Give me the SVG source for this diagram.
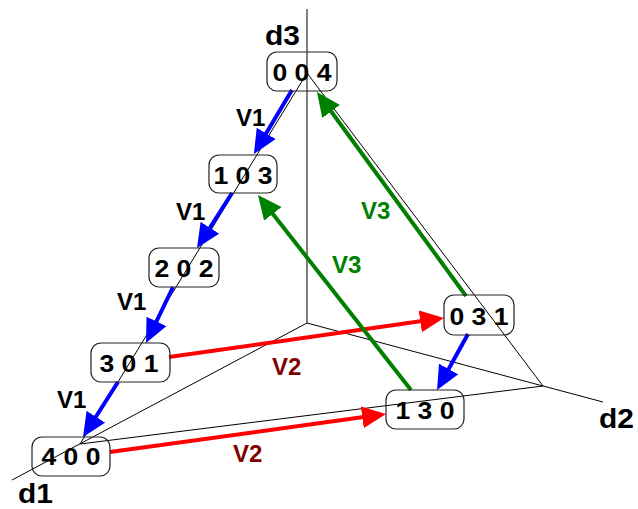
<svg xmlns="http://www.w3.org/2000/svg" width="638" height="509" viewBox="0 0 638 509">
<style>
.ax{stroke:#000;stroke-width:1;fill:none}
.box{fill:none;stroke:#222;stroke-width:1.2}
.nt{font-family:"Liberation Sans",Arial,sans-serif;font-weight:bold;font-size:23px;fill:#000;text-anchor:middle}
.al{font-family:"Liberation Sans",Arial,sans-serif;font-weight:bold;font-size:28px;fill:#000}
.lb{font-family:"Liberation Sans",Arial,sans-serif;font-weight:bold;font-size:24px}
.b{stroke:#0000ff;stroke-width:4;fill:none;marker-end:url(#mb)}
.r{stroke:#ff0000;stroke-width:4;fill:none;marker-end:url(#mr)}
.g{stroke:#008000;stroke-width:4;fill:none;marker-end:url(#mg)}
</style>
<defs>
<marker id="mb" markerUnits="userSpaceOnUse" markerWidth="24" markerHeight="22" refX="16" refY="11" orient="auto"><path d="M0,0 L24,11 L0,22 z" fill="#0000ff"/></marker>
<marker id="mr" markerUnits="userSpaceOnUse" markerWidth="24" markerHeight="22" refX="16" refY="11" orient="auto"><path d="M0,0 L24,11 L0,22 z" fill="#ff0000"/></marker>
<marker id="mg" markerUnits="userSpaceOnUse" markerWidth="24" markerHeight="22" refX="16" refY="11" orient="auto"><path d="M0,0 L24,11 L0,22 z" fill="#008000"/></marker>
</defs>
<g id="axes">
<line class="ax" x1="307" y1="9" x2="307" y2="323"/>
<line class="ax" x1="307" y1="323" x2="12" y2="480"/>
<line class="ax" x1="307" y1="323" x2="603" y2="402"/>
<polygon class="ax" points="307,73 80,444 543,386"/>
<text class="al" x="265" y="45" textLength="35" lengthAdjust="spacingAndGlyphs">d3</text>
<text class="al" x="18" y="503" textLength="35" lengthAdjust="spacingAndGlyphs">d1</text>
<text class="al" x="599" y="428" textLength="35" lengthAdjust="spacingAndGlyphs">d2</text>
</g>
<g id="connectors">
<line class="b" x1="292" y1="90" x2="258" y2="147.1"/>
<line class="b" x1="232" y1="193" x2="201.3" y2="241.2"/>
<line class="b" x1="173" y1="287" x2="149.5" y2="335.8"/>
<line class="b" x1="118" y1="382" x2="87.3" y2="430.2"/>
<line class="b" x1="468" y1="334" x2="440.9" y2="383"/>
<line class="r" x1="169" y1="357" x2="436.1" y2="319.1"/>
<line class="r" x1="110" y1="452" x2="378.1" y2="415.1"/>
<line class="g" x1="466" y1="296" x2="321.7" y2="98.5"/>
<line class="g" x1="411" y1="390" x2="262.9" y2="201.3"/>
<text class="lb" x="236" y="126" fill="#000">V1</text>
<text class="lb" x="176" y="220" fill="#000">V1</text>
<text class="lb" x="117" y="310" fill="#000">V1</text>
<text class="lb" x="57" y="408" fill="#000">V1</text>
<text class="lb" x="272" y="375" fill="#800000">V2</text>
<text class="lb" x="233" y="462" fill="#800000">V2</text>
<text class="lb" x="361" y="219" fill="#008000">V3</text>
<text class="lb" x="332" y="273" fill="#008000">V3</text>
</g>
<g id="n004"><rect class="box" x="267" y="52" width="70" height="39" rx="10"/><text class="nt" x="302" y="81" textLength="59" lengthAdjust="spacingAndGlyphs">0 0 4</text></g>
<g id="n103"><rect class="box" x="209" y="155" width="68" height="38" rx="10"/><text class="nt" x="243" y="184" textLength="59" lengthAdjust="spacingAndGlyphs">1 0 3</text></g>
<g id="n202"><rect class="box" x="149" y="248" width="70" height="39" rx="10"/><text class="nt" x="184" y="277" textLength="59" lengthAdjust="spacingAndGlyphs">2 0 2</text></g>
<g id="n301"><rect class="box" x="91" y="343" width="79" height="39" rx="10"/><text class="nt" x="129" y="372" textLength="59" lengthAdjust="spacingAndGlyphs">3 0 1</text></g>
<g id="n400"><rect class="box" x="32" y="437" width="78" height="39" rx="10"/><text class="nt" x="71" y="465" textLength="59" lengthAdjust="spacingAndGlyphs">4 0 0</text></g>
<g id="n031"><rect class="box" x="444" y="295" width="70" height="40" rx="10"/><text class="nt" x="479" y="325" textLength="59" lengthAdjust="spacingAndGlyphs">0 3 1</text></g>
<g id="n130"><rect class="box" x="386" y="390" width="78" height="39" rx="10"/><text class="nt" x="425" y="419" textLength="59" lengthAdjust="spacingAndGlyphs">1 3 0</text></g>
</svg>
